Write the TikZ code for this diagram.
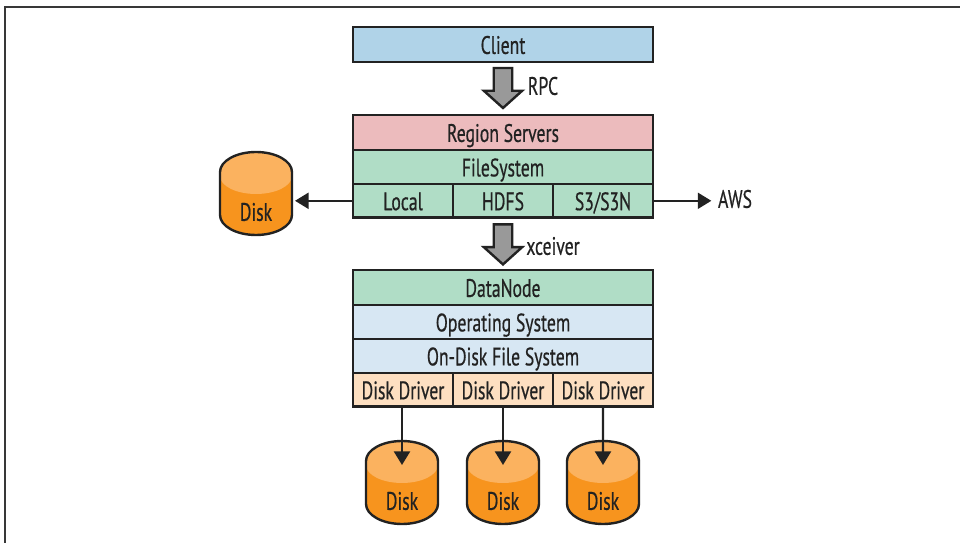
\documentclass[tikz,border=0pt]{standalone}
\usepackage{fontspec}
\setmainfont[FakeStretch=0.7, FakeBold=0.5]{PT Sans}
\usepackage{tikz}
\usetikzlibrary{shapes,arrows,arrows.meta,positioning}

\definecolor{clientblue}{HTML}{B0D3E8}
\definecolor{serverpink}{HTML}{ECBBBD}
\definecolor{fsgreen}{HTML}{B0DDC6}
\definecolor{ospale}{HTML}{D7E7F3}
\definecolor{driverpeach}{HTML}{FDDFC1}
\definecolor{diskorange}{HTML}{F7941E}
\definecolor{disklight}{HTML}{FBB25F}
\definecolor{linedark}{HTML}{222222}

% disk: name, x, y of the top rim centre
\newcommand{\disknode}[3]{
    \fill[diskorange] (#2-36,#3) arc[start angle=180, end angle=0, x radius=9mm, y radius=5mm] -- ++(0,43) arc[start angle=0, end angle=-180, x radius=9mm, y radius=5mm] -- cycle;
    \fill[disklight] (#2-36,#3) arc[start angle=180, end angle=0, x radius=9mm, y radius=5mm] -- ++(0,4) arc[start angle=0, end angle=-180, x radius=9mm, y radius=4.5mm] -- cycle;
    \draw[linedark, line width=.6mm] (#2-36,#3) arc[start angle=180, end angle=0, x radius=9mm, y radius=5mm] -- ++(0,43) arc[start angle=0, end angle=-180, x radius=9mm, y radius=5mm] -- cycle;
    \node [disklabel] (#1) at (#2,#3+40) {Disk};
    \coordinate (#1top) at (#2,#3+4);
    \coordinate (#1side) at (#2+39,#3+28);
}

\begin{document}
\begin{tikzpicture}
                [
                    x=.25mm, y=-.25mm,
                    node distance=0mm,
                    every node/.style={font=\fontsize{18}{20}\selectfont, text=linedark},
                    layerbox/.style={rectangle, draw=linedark, line width=.6mm, minimum width=75mm, minimum height=8.5mm, inner sep=0mm, outer sep=0mm, text depth=.3mm, text height=5mm},
                    thirdbox/.style={rectangle, draw=linedark, line width=.6mm, minimum width=25mm, minimum height=8.4mm, inner sep=0mm, outer sep=0mm, text depth=.3mm, text height=5mm},
                    blockarrow/.style={single arrow, draw=linedark, fill=gray!80, line width=.6mm, shape border rotate=270, minimum height=10mm, minimum width=9.6mm, single arrow head extend=1.6mm, single arrow tip angle=96, inner sep=1.2mm},
                    disklabel/.style={inner sep=0mm},
                    thinarrow/.style={-{Triangle[length=3.4mm, width=4mm]}, linedark, line width=.55mm},
                ]
                \useasboundingbox (0,0) rectangle (960,543);
                \draw[linedark!90, line width=.4mm] (960,7) -- (5,7) -- (5,543);

                \node [layerbox, fill=clientblue, minimum height=8.75mm] (client) at (503,44.5) {Client};
                \node [blockarrow] (rpcarrow) [below=1.2mm of client] {};
                \node [] (rpc) at (543,86) {RPC};

                \node [layerbox, fill=serverpink, minimum height=8.75mm] (region) at (503,132.5) {Region Servers};
                \node [layerbox, fill=fsgreen] (filesystem) [below=of region] {FileSystem};
                \node [thirdbox, fill=fsgreen] (hdfs) [below=of filesystem] {HDFS};
                \node [thirdbox, fill=fsgreen] (local) [left=of hdfs] {Local};
                \node [thirdbox, fill=fsgreen] (s3) [right=of hdfs] {S3/S3N};

                \node [blockarrow] (xceiverarrow) [below=1.4mm of hdfs] {};
                \node [] (xceiver) at (553,246) {xceiver};

                \node [layerbox, fill=fsgreen, minimum height=8.75mm] (datanode) at (503,287.5) {DataNode};
                \node [layerbox, fill=ospale] (os) [below=of datanode] {Operating System};
                \node [layerbox, fill=ospale] (ondisk) [below=of os] {On-Disk File System};
                \node [thirdbox, fill=driverpeach] (driver2) [below=of ondisk] {Disk Driver};
                \node [thirdbox, fill=driverpeach] (driver1) [left=of driver2] {Disk Driver};
                \node [thirdbox, fill=driverpeach] (driver3) [right=of driver2] {Disk Driver};

                \node [inner sep=1.6mm] (aws) at (735,199) {AWS};

                \disknode{diskleft}{256}{172}
                \disknode{diskone}{402}{461}
                \disknode{disktwo}{503}{461}
                \disknode{diskthree}{603}{461}

                \draw[thinarrow] (local.west) -- (local.west -| diskleftside);
                \draw[thinarrow] (s3.east) -- (s3.east -| aws.west);
                \draw[thinarrow] (driver1.south -| diskonetop) -- (diskonetop);
                \draw[thinarrow] (driver2.south) -- (disktwotop);
                \draw[thinarrow] (driver3.south) -- (diskthreetop);

            \end{tikzpicture}
\end{document}
